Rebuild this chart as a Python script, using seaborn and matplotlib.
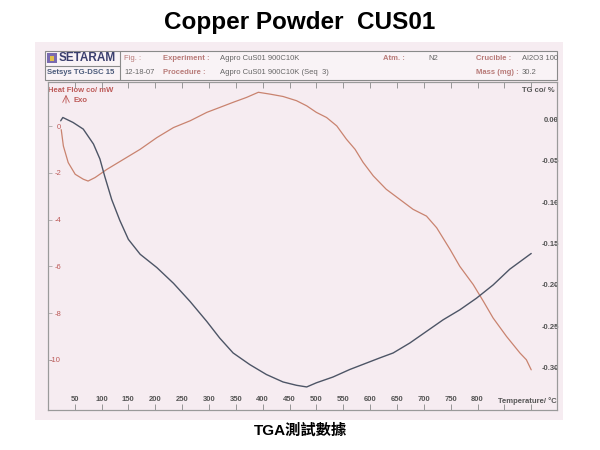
import numpy as np
import pandas as pd
import matplotlib
matplotlib.use('Agg')
import matplotlib.pyplot as plt
import seaborn as sns
from matplotlib.patches import Rectangle

# TG curve (mass change, %)
tg_temp = [24, 28, 47, 66, 85, 97, 106, 119, 134, 150, 172, 203, 234, 265, 296,
           320, 345, 376, 407, 438, 463, 482, 500, 531, 562, 594, 618, 643, 674,
           705, 736, 767, 798, 829, 860, 900]
tg_pct = [-0.002, 0.002, -0.004, -0.012, -0.030, -0.048, -0.069, -0.097, -0.122,
          -0.145, -0.163, -0.179, -0.198, -0.220, -0.244, -0.264, -0.282, -0.296,
          -0.308, -0.317, -0.321, -0.323, -0.318, -0.311, -0.302, -0.294, -0.288,
          -0.282, -0.270, -0.256, -0.242, -0.230, -0.216, -0.200, -0.181, -0.162]

# Heat flow curve (mW)
hf_temp = [25, 29, 38, 51, 66, 75, 88, 110, 141, 172, 203, 234, 265, 296, 320,
           345, 370, 392, 414, 438, 463, 482, 500, 519, 538, 556, 572, 587, 606,
           630, 655, 680, 705, 724, 749, 767, 792, 811, 829, 854, 879, 891, 900]
hf_mw = [-0.15, -0.85, -1.56, -2.06, -2.27, -2.35, -2.20, -1.85, -1.42, -0.99,
         -0.49, -0.06, 0.23, 0.59, 0.80, 1.02, 1.23, 1.45, 1.37, 1.27, 1.09, 0.87,
         0.59, 0.37, 0.01, -0.56, -0.99, -1.55, -2.13, -2.70, -3.13, -3.56, -3.85,
         -4.35, -5.28, -6.00, -6.78, -7.50, -8.21, -9.00, -9.71, -10.0, -10.43]

x_ticks = list(range(50, 901, 50))
x_labels = [str(t) if t <= 800 else '' for t in x_ticks]
hf_ticks = [0, -2, -4, -6, -8, -10]
tg_ticks = [0.00, -0.05, -0.10, -0.15, -0.20, -0.25, -0.30]

sns.set_theme(style='white')
plt.rcParams['font.family'] = ['Liberation Sans', 'DejaVu Sans']
plt.rcParams['axes.unicode_minus'] = False

pink = '#f6ecf1'
red = '#c9836f'
slate = '#4d5566'
lab_red = '#bd5a58'
grey = '#555555'

fig = plt.figure(figsize=(6, 4.5), dpi=100)

# overlay in pixel coordinates for the scanned page, header and captions
ov = fig.add_axes([0, 0, 1, 1], zorder=-1)
ov.set_xlim(0, 600)
ov.set_ylim(450, 0)
ov.axis('off')
ov.add_patch(Rectangle((35, 42), 528, 378, facecolor=pink, edgecolor='none', zorder=0))

ax = fig.add_axes([47.8 / 600, 40 / 450, 509.2 / 600, 328 / 450])
ax.set_facecolor('none')
ax2 = ax.twinx()

hf = pd.DataFrame({'T': hf_temp, 'HF': hf_mw})
tg = pd.DataFrame({'T': tg_temp, 'TG': tg_pct})
sns.lineplot(data=hf, x='T', y='HF', ax=ax, color=red, lw=0.9)
sns.lineplot(data=tg, x='T', y='TG', ax=ax2, color=slate, lw=1.0)

ax.set_xlim(0, 948)
ax.set_ylim(-12.15, 1.89)
ax2.set_ylim(-0.3508, 0.0448)
ax.set_xlabel('')
ax.set_ylabel('')
ax2.set_ylabel('')

for a in (ax, ax2):
    for s in a.spines.values():
        s.set_color('#9a9a9a')
        s.set_linewidth(0.8)

ax.set_xticks(x_ticks)
ax.set_xticklabels(x_labels)
ax.tick_params(axis='x', which='both', direction='in', top=True, bottom=True,
               length=4, width=0.6, color='#888', pad=-10, labelsize=5.5,
               labelcolor=grey)
for lbl in ax.get_xticklabels():
    lbl.set_fontweight('bold')

ax.set_yticks(hf_ticks)
ax.set_yticklabels([str(v) for v in hf_ticks])
ax.tick_params(axis='y', direction='in', left=True, length=3, width=0.6,
               color='#aaa', pad=-9.5, labelsize=5.5, labelcolor=lab_red)

ax2.set_yticks(tg_ticks)
ax2.set_yticklabels(['%.2f' % v for v in tg_ticks])
ax2.tick_params(axis='y', direction='in', right=True, length=3, width=0.6,
                color='#888', pad=1.5, labelsize=5.5, labelcolor=grey)
for lbl in ax2.get_yticklabels():
    lbl.set_ha('right')
    lbl.set_fontweight('bold')

ov.add_patch(Rectangle((45, 51), 512, 29, facecolor='#f9f3f6', edgecolor='#8a8a8a', lw=0.8))
ov.plot([120, 120], [51, 80], color='#8a8a8a', lw=0.8)
ov.plot([45, 120], [66, 66], color='#8a8a8a', lw=0.8)
ov.add_patch(Rectangle((47, 53), 10, 10, facecolor='#7a6bb0', edgecolor='none'))
ov.add_patch(Rectangle((50, 56), 4, 5, facecolor='#e2c04a', edgecolor='none'))
ov.text(59, 58, 'SETARAM', fontsize=8.5, fontweight='bold', color='#3b3f6e', va='center')
ov.text(47, 73, 'Setsys TG-DSC 15', fontsize=5.6, fontweight='bold', color='#4a5a7a', va='center')

hdr_lab = '#b87a78'
hdr_val = '#666666'
row1, row2 = 59, 72
ov.text(124, row1, 'Fig. :', fontsize=5.5, color=hdr_lab, va='center')
ov.text(124, row2, '12-18-07', fontsize=5.5, color=hdr_val, va='center')
ov.text(163, row1, 'Experiment :', fontsize=5.5, color=hdr_lab, va='center', fontweight='bold')
ov.text(163, row2, 'Procedure :', fontsize=5.5, color=hdr_lab, va='center', fontweight='bold')
ov.text(220, row1, 'Agpro CuS01 900C10K', fontsize=5.5, color=hdr_val, va='center')
ov.text(220, row2, 'Agpro CuS01 900C10K (Seq  3)', fontsize=5.5, color=hdr_val, va='center')
ov.text(383, row1, 'Atm. :', fontsize=5.5, color=hdr_lab, va='center', fontweight='bold')
ov.text(428, row1, 'N2', fontsize=5.5, color=hdr_val, va='center')
ov.text(476, row1, 'Crucible :', fontsize=5.5, color=hdr_lab, va='center', fontweight='bold')
ov.text(476, row2, 'Mass (mg) :', fontsize=5.5, color=hdr_lab, va='center', fontweight='bold')
ov.text(522, row1, 'Al2O3 100', fontsize=5.5, color=hdr_val, va='center')
ov.text(522, row2, '30.2', fontsize=5.5, color=hdr_val, va='center')

# axis captions
ov.text(48, 91, 'Heat Flow co/ mW', fontsize=5.5, color=lab_red, va='center', fontweight='bold')
ov.annotate('', xy=(66, 92), xytext=(66, 106),
            arrowprops=dict(arrowstyle='->', color=lab_red, lw=0.6))
ov.text(73, 100, 'Exo', fontsize=5.5, color=lab_red, va='center', fontweight='bold')
ov.text(555, 91, 'TG co/ %', fontsize=5.5, color=grey, va='center', ha='right', fontweight='bold')
ov.text(557, 401, 'Temperature/ \u00b0C', fontsize=5.5, color=grey, va='center', ha='right',
        fontweight='bold')

fig.text(0.5, 1 - 22 / 450, 'Copper Powder  CUS01', ha='center', va='center',
         fontsize=17.5, fontweight='bold', color='black')
fig.text(0.5, 1 - 431 / 450, 'TGA\u6e2c\u8a66\u6578\u64da', ha='center', va='center',
         fontsize=11, fontweight='bold', color='black',
         family=['Liberation Sans', 'Noto Sans CJK TC'])

fig.savefig('out.png', dpi=100)
